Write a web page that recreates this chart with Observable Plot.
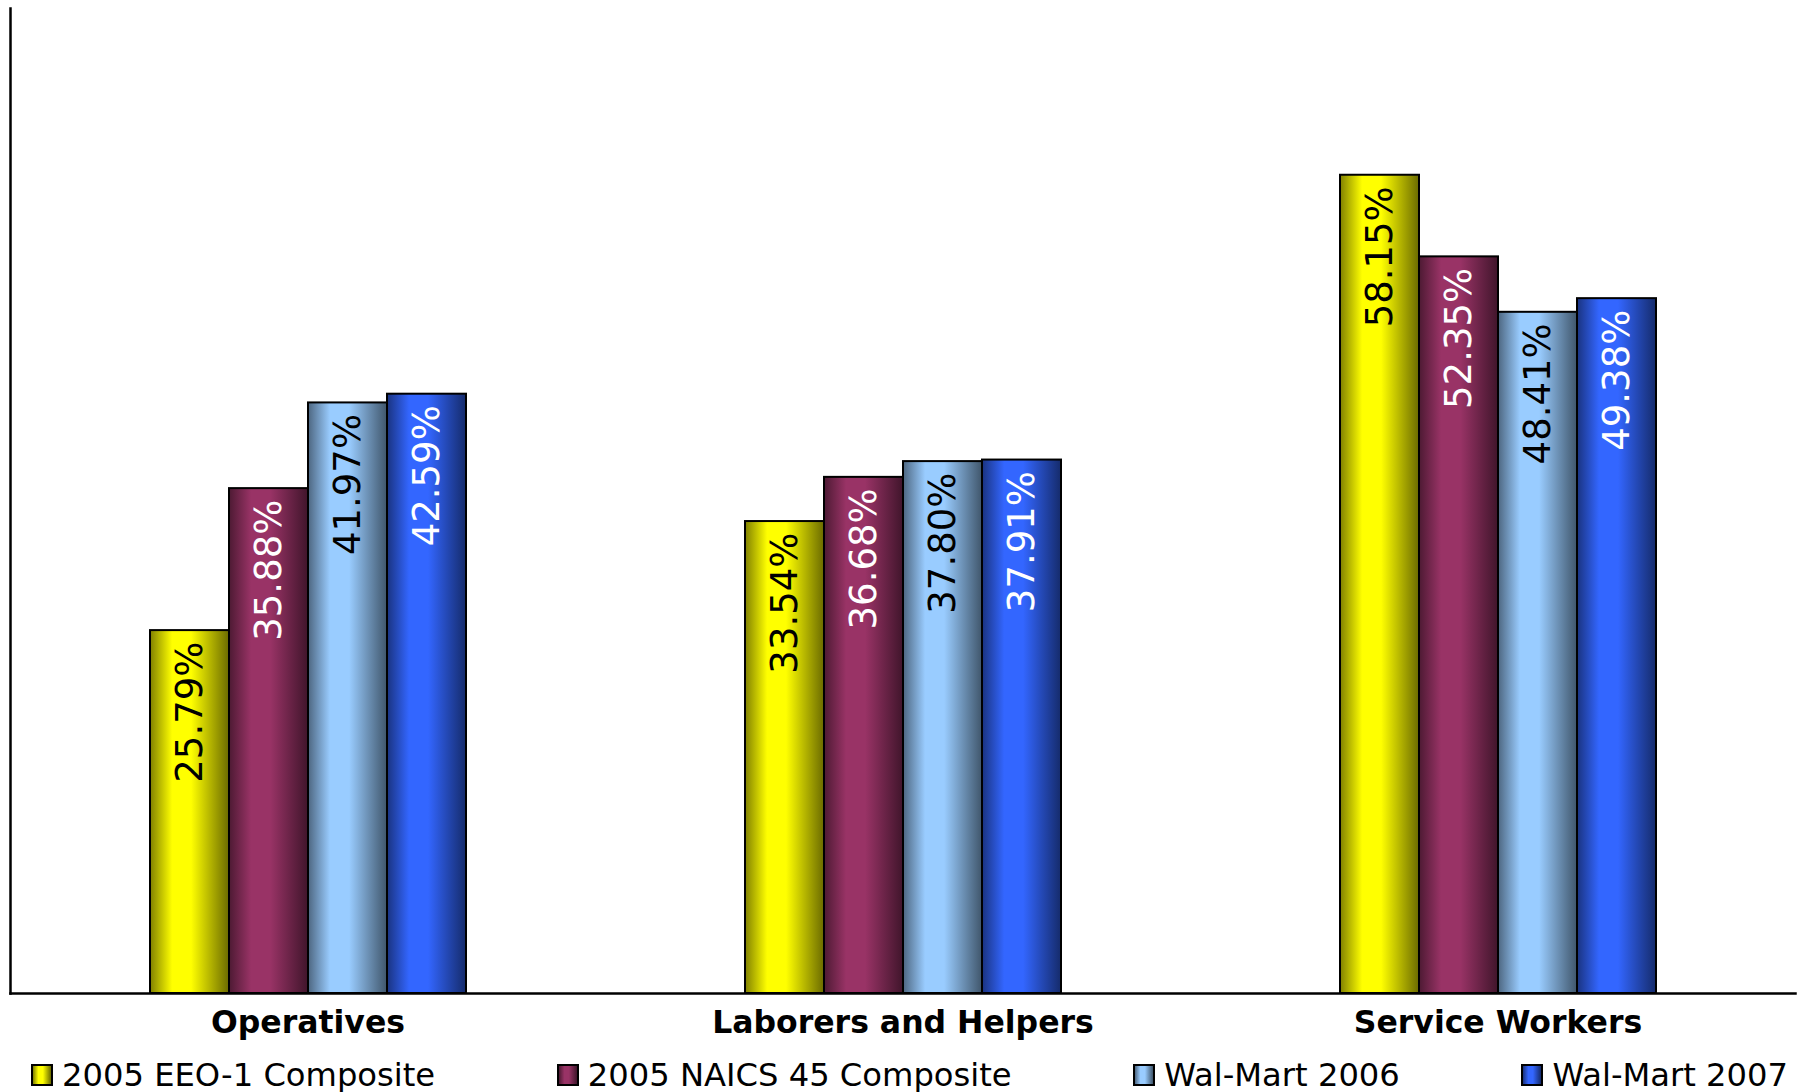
<!DOCTYPE html>
<html>
<head>
<meta charset="utf-8">
<script src="https://cdn.jsdelivr.net/npm/d3@7"></script>
<script src="https://cdn.jsdelivr.net/npm/@observablehq/plot@0.6"></script>
<style>
  html, body { margin: 0; padding: 0; background: #fff; }
  #wrap { width: 1801px; font-family: "DejaVu Sans", Verdana, sans-serif; }
  #legend { display: flex; justify-content: space-between; align-items: center;
            height: 40px; margin-top: 3px; padding: 0 13px 0 31px; box-sizing: border-box; width: 1801px; }
  .item { display: flex; align-items: center; font-size: 32.2px; color: #000; white-space: nowrap; }
  .sw { width: 18px; height: 18px; border: 2px solid #000; margin-right: 9px; }
</style>
</head>
<body>
<div id="wrap">
  <div id="chart"></div>
  <div id="legend"></div>
</div>
<script>
// ---- data ----
const categories = ["Operatives", "Laborers and Helpers", "Service Workers"];
const seriesNames = ["2005 EEO-1 Composite", "2005 NAICS 45 Composite", "Wal-Mart 2006", "Wal-Mart 2007"];
const eeo1 = [25.79, 33.54, 58.15];
const naics45 = [35.88, 36.68, 52.35];
const walmart2006 = [41.97, 37.80, 48.41];
const walmart2007 = [42.59, 37.91, 49.38];
const seriesValues = [eeo1, naics45, walmart2006, walmart2007];

// styles
const gradId = ["g0", "g1", "g2", "g3"];
const baseColors = ["#ffff00", "#993366", "#99ccff", "#3366ff"];
const labelColors = ["black", "white", "black", "white"];

const data = [];
categories.forEach((c, ci) => {
  seriesNames.forEach((s, si) => {
    data.push({category: c, series: s, value: seriesValues[si][ci],
               fill: `url(#${gradId[si]})`, textFill: labelColors[si],
               label: seriesValues[si][ci].toFixed(2) + "%"});
  });
});

const W = 1801, H = 1052;
const chart = Plot.plot({
  width: W, height: H,
  marginLeft: 9, marginRight: 6, marginTop: 8, marginBottom: 59,
  style: {fontFamily: "DejaVu Sans, Verdana, sans-serif", color: "black", background: "white"},
  fx: {domain: categories, paddingInner: 0, paddingOuter: 0, label: null},
  x: {domain: seriesNames, paddingInner: 0, paddingOuter: 1.742, align: 0.5, axis: null},
  y: {domain: [0, 70], axis: null},
  color: {type: "identity"},
  marks: [
    Plot.barY(data, {fx: "category", x: "series", y: "value", fill: "fill",
                     stroke: "black", strokeWidth: 2}),
    Plot.text(data, {fx: "category", x: "series", y: "value", text: "label",
                     rotate: -90, textAnchor: "end", lineAnchor: "middle", dy: 11,
                     fill: "textFill", fontSize: 37}),
    Plot.frame({anchor: "bottom", facet: "super", stroke: "black", strokeWidth: 2.5}),
    Plot.frame({anchor: "left", facet: "super", stroke: "black", strokeWidth: 2.5}),
    Plot.axisFx({anchor: "bottom", tickSize: 0, tickPadding: 17, fontSize: 31.5,
                 fontWeight: "bold", label: null})
  ]
});

// gradient defs for cylinder-like shading
function shade(c, k) { const x = d3.rgb(c); return d3.rgb(x.r * k, x.g * k, x.b * k).formatHex(); }
const svgEl = chart.tagName.toLowerCase() === "svg" ? chart : chart.querySelector("svg");
const defs = d3.select(svgEl).insert("defs", ":first-child");
baseColors.forEach((c, i) => {
  const g = defs.append("linearGradient").attr("id", gradId[i])
    .attr("x1", 0).attr("x2", 1).attr("y1", 0).attr("y2", 0);
  g.append("stop").attr("offset", "0%").attr("stop-color", shade(c, 0.5));
  g.append("stop").attr("offset", "28%").attr("stop-color", c);
  g.append("stop").attr("offset", "52%").attr("stop-color", c);
  g.append("stop").attr("offset", "100%").attr("stop-color", shade(c, 0.42));
});
document.getElementById("chart").appendChild(chart);

// legend
const legend = d3.select("#legend");
seriesNames.forEach((s, i) => {
  const it = legend.append("div").attr("class", "item");
  const c = baseColors[i];
  it.append("div").attr("class", "sw")
    .style("background", `linear-gradient(to right, ${shade(c, 0.5)} 0%, ${c} 30%, ${c} 55%, ${shade(c, 0.42)} 100%)`);
  it.append("span").text(s);
});
</script>
</body>
</html>
